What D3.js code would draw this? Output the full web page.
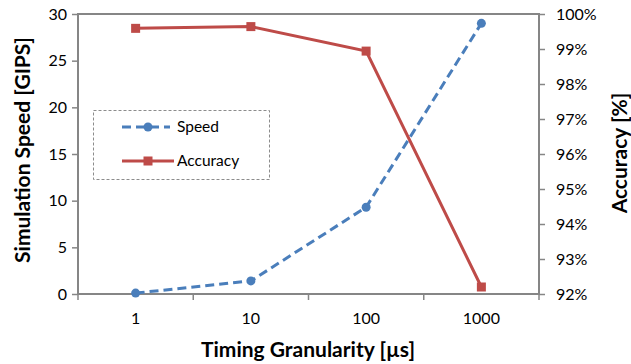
<!DOCTYPE html>
<html lang="en">
<head>
<meta charset="UTF-8"/>
<title>Speed vs Accuracy</title>
<script src="https://d3js.org/d3.v7.min.js"></script>
<style>
  body { margin: 0; background: #fff; }
  text { font-family: Lato, "Open Sans", sans-serif; fill: #000; }
</style>
</head>
<body>
<script>
var w = 631;
var h = 364;

var granularity = ["1", "10", "100", "1000"];
var speed = [0.1, 1.4, 9.3, 29.0];
var accuracy = [0.9959, 0.9964, 0.9894, 0.9220];
var speedTicks = [0, 5, 10, 15, 20, 25, 30];
var accTicks = [0.92, 0.93, 0.94, 0.95, 0.96, 0.97, 0.98, 0.99, 1.00];

// note: "top" is taken by window.top, so plot edges get a prefix
var plotL = 78, plotR = 539, plotT = 14, plotB = 294;
var axisColor = "#868686";
var speedColor = "#4a7ebb";
var accColor = "#be4b48";

var xScale = d3.scaleBand()
    .domain(granularity)
    .range([plotL, plotR]);

var ySpeed = d3.scaleLinear()
    .domain([0, 30])
    .range([plotB, plotT]);

var yAcc = d3.scaleLinear()
    .domain([0.92, 1.0])
    .range([plotB, plotT]);

var svg = d3.select("body")
    .append("svg")
    .attr("width", w)
    .attr("height", h);

/* plot frame */
svg.append("rect")
    .attr("x", plotL).attr("y", plotT)
    .attr("width", plotR - plotL).attr("height", plotB - plotT)
    .attr("fill", "none")
    .attr("stroke", axisColor)
    .attr("stroke-width", 2);

/* axes */
var gl = svg.append("g")
    .attr("transform", "translate(" + plotL + ",0)")
    .call(d3.axisLeft(ySpeed).tickValues(speedTicks).tickSize(6).tickPadding(5));

var gr = svg.append("g")
    .attr("transform", "translate(" + plotR + ",0)")
    .call(d3.axisRight(yAcc).tickValues(accTicks).tickSize(6).tickPadding(11)
        .tickFormat(d3.format(".0%")));

var gx = svg.append("g")
    .attr("transform", "translate(0," + plotB + ")")
    .call(d3.axisBottom(xScale).tickSize(0).tickPadding(19));

/* x ticks sit at category boundaries */
svg.selectAll(".xb")
    .data(d3.range(granularity.length + 1))
    .enter()
    .append("line")
    .attr("x1", function(i){ return plotL + i * xScale.step(); })
    .attr("x2", function(i){ return plotL + i * xScale.step(); })
    .attr("y1", plotB)
    .attr("y2", plotB + 6)
    .attr("stroke", axisColor)
    .attr("stroke-width", 1.5);

[gl, gr, gx].forEach(function(g){
    g.select(".domain").remove();
    g.selectAll(".tick line").attr("stroke", axisColor).attr("stroke-width", 1.5);
    g.selectAll(".tick text")
        .attr("font-size", "16px")
        .attr("font-family", "Lato, 'Open Sans', sans-serif")
        .attr("fill", "#000");
});

/* lines */
var speedLine = d3.line()
    .x(function(d, i){ return xScale(granularity[i]) + xScale.bandwidth() / 2; })
    .y(function(d){ return ySpeed(d); });

var accLine = d3.line()
    .x(function(d, i){ return xScale(granularity[i]) + xScale.bandwidth() / 2; })
    .y(function(d){ return yAcc(d); });

svg.append("path")
    .datum(speed)
    .attr("d", speedLine)
    .attr("fill", "none")
    .attr("stroke", speedColor)
    .attr("stroke-width", 3)
    .attr("stroke-dasharray", "9,5");

svg.append("path")
    .datum(accuracy)
    .attr("d", accLine)
    .attr("fill", "none")
    .attr("stroke", accColor)
    .attr("stroke-width", 3);

svg.selectAll(".speedPt")
    .data(speed)
    .enter()
    .append("circle")
    .attr("cx", function(d, i){ return xScale(granularity[i]) + xScale.bandwidth() / 2; })
    .attr("cy", function(d){ return ySpeed(d); })
    .attr("r", 4.5)
    .attr("fill", speedColor);

svg.selectAll(".accPt")
    .data(accuracy)
    .enter()
    .append("rect")
    .attr("x", function(d, i){ return xScale(granularity[i]) + xScale.bandwidth() / 2 - 4.5; })
    .attr("y", function(d){ return yAcc(d) - 4.5; })
    .attr("width", 9)
    .attr("height", 9)
    .attr("fill", accColor);

/* legend */
var lg = svg.append("g");
lg.append("rect")
    .attr("x", 93.5).attr("y", 110.5)
    .attr("width", 176).attr("height", 69)
    .attr("fill", "#fff")
    .attr("stroke", "#8c8c8c")
    .attr("stroke-width", 1)
    .attr("stroke-dasharray", "3,2");

lg.append("line")
    .attr("x1", 122).attr("x2", 170).attr("y1", 127).attr("y2", 127)
    .attr("stroke", speedColor).attr("stroke-width", 3)
    .attr("stroke-dasharray", "9,5");
lg.append("circle").attr("cx", 148).attr("cy", 127).attr("r", 4.5).attr("fill", speedColor);
lg.append("text").attr("x", 177).attr("y", 132).attr("font-size", "15.5px").text("Speed");

lg.append("line")
    .attr("x1", 122).attr("x2", 174).attr("y1", 161).attr("y2", 161)
    .attr("stroke", accColor).attr("stroke-width", 3);
lg.append("rect").attr("x", 143.5).attr("y", 156.5).attr("width", 9).attr("height", 9).attr("fill", accColor);
lg.append("text").attr("x", 177).attr("y", 166).attr("font-size", "15.5px").text("Accuracy");

/* axis titles */
svg.append("text")
    .attr("transform", "translate(30,150) rotate(-90)")
    .attr("text-anchor", "middle")
    .attr("font-size", "21px")
    .attr("font-weight", "bold")
    .text("Simulation Speed [GIPS]");

svg.append("text")
    .attr("transform", "translate(627,153) rotate(-90)")
    .attr("text-anchor", "middle")
    .attr("font-size", "21px")
    .attr("font-weight", "bold")
    .text("Accuracy [%]");

svg.append("text")
    .attr("x", 308)
    .attr("y", 357)
    .attr("text-anchor", "middle")
    .attr("font-size", "21px")
    .attr("font-weight", "bold")
    .text("Timing Granularity [µs]");
</script>
</body>
</html>
